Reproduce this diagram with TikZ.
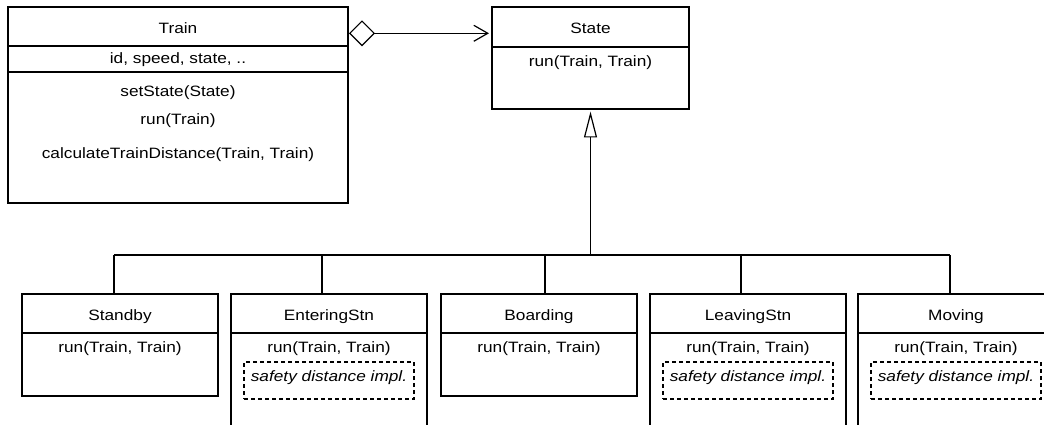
\documentclass[tikz,border=0pt]{standalone}
\usepackage{fontspec}
\setmainfont[FakeStretch=1.15]{Liberation Sans}
\usetikzlibrary{arrows.meta}
\begin{document}
\begin{tikzpicture}[x=1pt,y=-1pt, line width=1.2pt,
  cls/.style={draw, anchor=north west, inner sep=0pt, outer sep=0pt},
  txt/.style={inner sep=0pt, anchor=base, font=\fontsize{15}{18}\selectfont},
  itxt/.style={txt, font=\fontsize{15}{18}\selectfont\itshape},
  dbox/.style={draw, dash pattern=on 4pt off 3pt, anchor=north west, inner sep=0pt, outer sep=0pt, minimum width=170pt, minimum height=37pt},
  sub/.style={cls, minimum width=196pt}]
\useasboundingbox (0,0) rectangle (1044,425);
\fill[white] (0,0) rectangle (1044,425);
\clip (0,0) rectangle (1044,425);

% Train
\node[cls, minimum width=340pt, minimum height=196pt] (train) at (8,7) {};
\draw (8,46) -- (348,46);
\draw (8,72) -- (348,72);
\node[txt] (trainT) at (178,33.3) {Train};
\node[txt] (trainA) at (178,63.5) {id, speed, state, ..};
\node[txt] (trainM1) at (178,97) {setState(State)};
\node[txt] (trainM2) at (178,125) {run(Train)};
\node[txt] (trainM3) at (178,159) {calculateTrainDistance(Train, Train)};

% State
\node[cls, minimum width=197pt, minimum height=102pt] (state) at (492,7) {};
\draw (492,47) -- (689,47);
\node[txt] (stateT) at (590.5,33.3) {State};
\node[txt] (stateM) at (590.5,66.8) {run(Train, Train)};

% aggregation
\coordinate (aggS) at (349,33.3);
\draw[{Diamond[open,length=26pt,width=26pt]}-{Straight Barb[length=14pt,width=16pt]}, shorten >=3pt]
  (aggS) -- (aggS -| state.west);

% subclasses
\node[sub, minimum height=102pt] (standby) at (22,294) {};
\node[sub, minimum height=160pt] (entering) at (231,294) {};
\node[sub, minimum height=102pt] (boarding) at (441,294) {};
\node[sub, minimum height=160pt] (leaving) at (650,294) {};
\node[sub, minimum height=160pt] (moving) at (858,294) {};
\draw (22,333) -- (218,333);
\draw (231,333) -- (427,333);
\draw (441,333) -- (637,333);
\draw (650,333) -- (846,333);
\draw (858,333) -- (1054,333);

\node[txt] (standbyT) at (120,320) {Standby};
\node[txt] (enteringT) at (329,320) {EnteringStn};
\node[txt] (boardingT) at (539,320) {Boarding};
\node[txt] (leavingT) at (748,320) {LeavingStn};
\node[txt] (movingT) at (956,320) {Moving};

\node[txt] (standbyM) at (120,352) {run(Train, Train)};
\node[txt] (enteringM) at (329,352) {run(Train, Train)};
\node[txt] (boardingM) at (539,352) {run(Train, Train)};
\node[txt] (leavingM) at (748,352) {run(Train, Train)};
\node[txt] (movingM) at (956,352) {run(Train, Train)};

\node[dbox] (enteringD) at (244,362) {};
\node[dbox] (leavingD) at (663,362) {};
\node[dbox] (movingD) at (871,362) {};
\node[itxt] (enteringS) at (329,381.5) {safety distance impl.};
\node[itxt] (leavingS) at (748,381.5) {safety distance impl.};
\node[itxt] (movingS) at (956,381.5) {safety distance impl.};

% inheritance tree
\coordinate (b1) at (114,255);
\coordinate (b2) at (322,255);
\coordinate (bj) at (590.5,255);
\coordinate (b3) at (545,255);
\coordinate (b4) at (741,255);
\coordinate (b5) at (950,255);
\draw (b1) -- (b5);
\draw[-{Triangle[open,length=26pt,width=13pt]}, shorten >=2.5pt] (bj) -- (state.south);
\draw (b1) -- (b1 |- standby.north);
\draw (b2) -- (b2 |- entering.north);
\draw (b3) -- (b3 |- boarding.north);
\draw (b4) -- (b4 |- leaving.north);
\draw (b5) -- (b5 |- moving.north);
\end{tikzpicture}
\end{document}
